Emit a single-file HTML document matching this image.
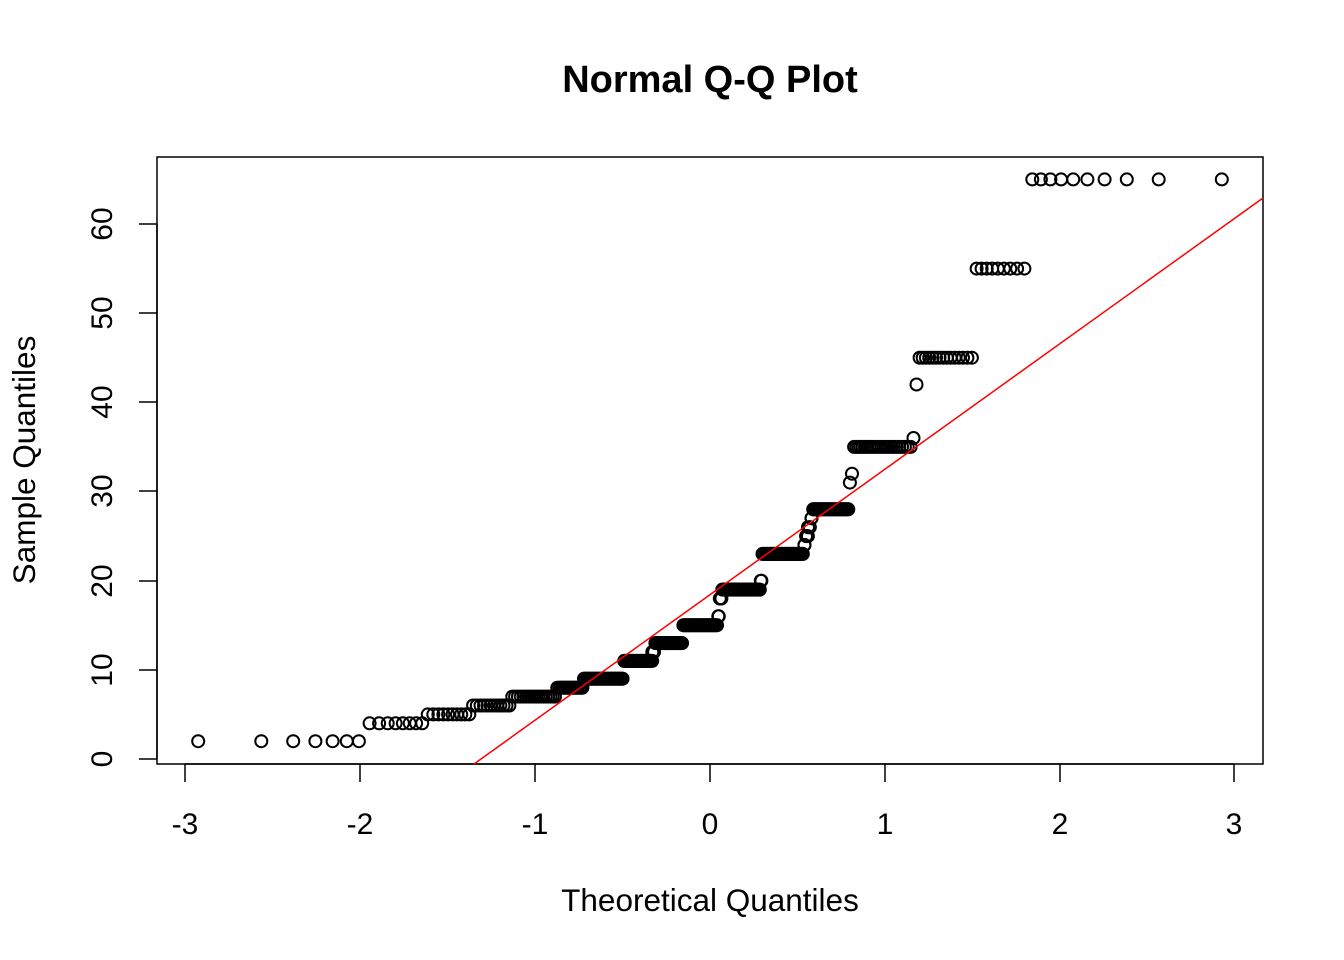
<!DOCTYPE html>
<html><head><meta charset="utf-8"><style>
html,body{margin:0;padding:0;background:#fff;}
svg{display:block;font-family:"Liberation Sans",Arial,sans-serif;}
</style></head><body>
<svg id="s" width="1344" height="960" xmlns="http://www.w3.org/2000/svg">
<rect width="1344" height="960" fill="#fff"/>
<text x="710" y="92" text-anchor="middle" font-size="38" font-weight="bold">Normal Q-Q Plot</text>
<rect x="157" y="157" width="1106" height="607" fill="none" stroke="#000" stroke-width="1.5"/>
<g stroke="#000" stroke-width="1.5">
<line x1="185" y1="764" x2="1234" y2="764"/>
<line x1="185" y1="764" x2="185" y2="782"/><line x1="360" y1="764" x2="360" y2="782"/>
<line x1="535" y1="764" x2="535" y2="782"/><line x1="710" y1="764" x2="710" y2="782"/>
<line x1="885" y1="764" x2="885" y2="782"/><line x1="1060" y1="764" x2="1060" y2="782"/>
<line x1="1234" y1="764" x2="1234" y2="782"/>
<line x1="157" y1="224" x2="157" y2="759"/>
<line x1="139" y1="759" x2="157" y2="759"/><line x1="139" y1="670" x2="157" y2="670"/>
<line x1="139" y1="581" x2="157" y2="581"/><line x1="139" y1="491" x2="157" y2="491"/>
<line x1="139" y1="402" x2="157" y2="402"/><line x1="139" y1="313" x2="157" y2="313"/>
<line x1="139" y1="224" x2="157" y2="224"/>
</g>
<g font-size="30" text-anchor="middle">
<text x="185" y="834">-3</text><text x="360" y="834">-2</text><text x="535" y="834">-1</text>
<text x="710" y="834">0</text><text x="885" y="834">1</text><text x="1060" y="834">2</text><text x="1234" y="834">3</text>
<g transform="translate(112,0)">
<text transform="translate(0,759) rotate(-90)">0</text>
<text transform="translate(0,670) rotate(-90)">10</text>
<text transform="translate(0,581) rotate(-90)">20</text>
<text transform="translate(0,491) rotate(-90)">30</text>
<text transform="translate(0,402) rotate(-90)">40</text>
<text transform="translate(0,313) rotate(-90)">50</text>
<text transform="translate(0,224) rotate(-90)">60</text>
</g>
<text x="710" y="911" font-size="31.5">Theoretical Quantiles</text>
<text transform="translate(35,460) rotate(-90)" font-size="31.5">Sample Quantiles</text>
</g>
<g id="pts" fill="none" stroke="#000" stroke-width="2"></g>
<line x1="474" y1="764" x2="1263" y2="198" stroke="#f00" stroke-width="1.5"/>
</svg>
<script>
function qn(p){var a=[-39.6968302866538,220.946098424521,-275.928510446969,138.357751867269,-30.6647980661472,2.50662827745924],b=[-54.4760987982241,161.585836858041,-155.698979859887,66.8013118877197,-13.2806815528857],c=[-0.00778489400243029,-0.322396458041136,-2.40075827716184,-2.54973253934373,4.37466414146497,2.93816398269878],d=[0.00778469570904146,0.32246712907004,2.445134137143,3.75440866190742],pl=0.02425,q,r;
if(p<pl){q=Math.sqrt(-2*Math.log(p));return(((((c[0]*q+c[1])*q+c[2])*q+c[3])*q+c[4])*q+c[5])/((((d[0]*q+d[1])*q+d[2])*q+d[3])*q+1);}
if(p>1-pl){return -qn(1-p);}
q=p-0.5;r=q*q;return(((((a[0]*r+a[1])*r+a[2])*r+a[3])*r+a[4])*r+a[5])*q/(((((b[0]*r+b[1])*r+b[2])*r+b[3])*r+b[4])*r+1);}
var T=[[-1.98,2],[-1.635,4],[-1.37,5],[-1.135,6],[-0.88,7],[-0.725,8],[-0.495,9],[-0.33,11],[-0.318,12],[-0.155,13],[0.045,15],[0.055,16],[0.065,18],[0.285,19],[0.295,20],[0.535,23],[0.548,24],[0.56,25],[0.572,26],[0.585,27],[0.795,28],[0.805,31],[0.815,32],[1.155,35],[1.165,36],[1.18,37],[1.195,42],[1.51,45],[1.82,55],[99,65]];
var n=290,g=document.getElementById('pts'),h='';
for(var i=1;i<=n;i++){var z=qn((i-0.5)/n),v=65;for(var k=0;k<T.length;k++){if(z<=T[k][0]){v=T[k][1];break;}}
h+='<circle cx="'+(710+175*z).toFixed(1)+'" cy="'+(759-8.917*v).toFixed(1)+'" r="6"/>';}
var zs=[];for(var m=-0.86;m<0.8;m+=0.01){var zz=m,vv=65;for(var k2=0;k2<T.length;k2++){if(zz<=T[k2][0]){vv=T[k2][1];break;}}h+='<circle cx="'+(710+175*zz).toFixed(1)+'" cy="'+(759-8.917*vv).toFixed(1)+'" r="6"/>';}
g.innerHTML=h;
</script>
</body></html>
